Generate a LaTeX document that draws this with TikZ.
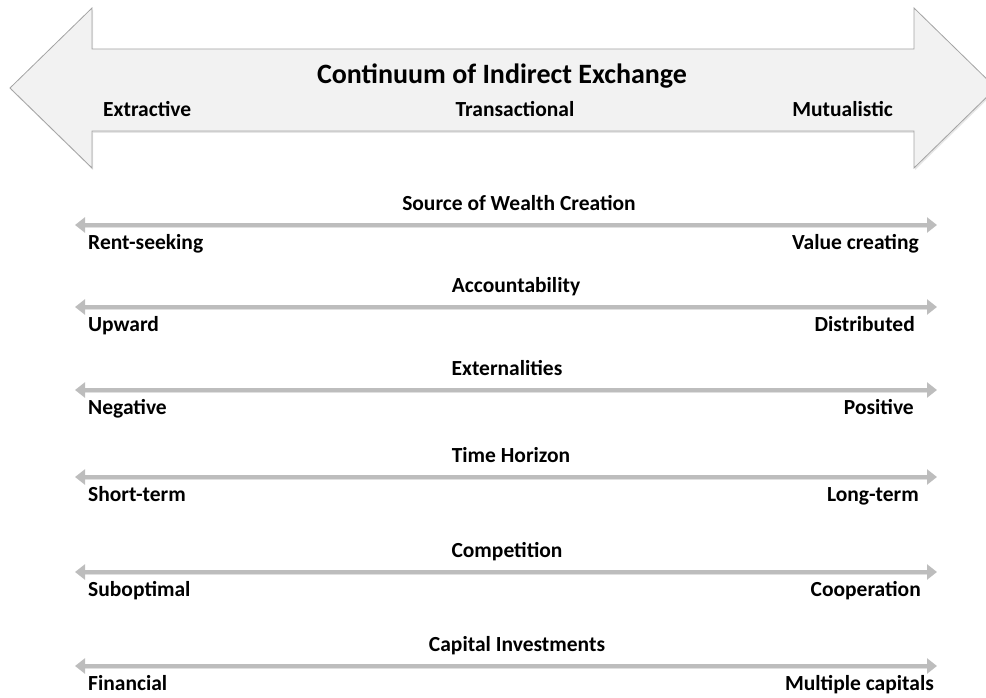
\documentclass[tikz,border=0pt]{standalone}
\usepackage{fontspec}
\setmainfont{Carlito}
\usetikzlibrary{arrows.meta,shadows}
\definecolor{arrowfill}{HTML}{F2F2F2}
\definecolor{arrowline}{HTML}{A3A3A3}
\definecolor{scaleline}{HTML}{BDBDBD}
\begin{document}
\begin{tikzpicture}[x=1pt,y=-1pt]
\tikzset{
	big arrow/.style={draw=arrowline,fill=arrowfill,line width=0.8pt,
		drop shadow={opacity=0.2,shadow xshift=1pt,shadow yshift=-2pt}},
	scale arrow/.style={draw=scaleline,line width=3.5pt,
		{Triangle[length=10pt,width=15pt]}-{Triangle[length=10pt,width=15pt]}},
	scale shadow/.style={draw=black!12,line width=3pt,shorten <=6pt,shorten >=6pt,
		transform canvas={yshift=-1.8pt}},
	head text/.style={font=\bfseries\fontsize{28}{32}\selectfont,inner sep=0pt,anchor=mid},
	pole text/.style={font=\bfseries\fontsize{21.5}{24}\selectfont,inner sep=0pt}
}
\useasboundingbox (0,0) rectangle (986,698);
\clip (0,0) rectangle (986,698);
% continuum arrow
\path[big arrow] (10,88) -- (92,8) -- (92,49) -- (914,49) -- (914,8) -- (996,88)
	-- (914,168) -- (914,131) -- (92,131) -- (92,168) -- cycle;
\node[head text] (continuum) at (502,81) {Continuum of Indirect Exchange};
\node[pole text,anchor=mid west] (extractive) at (103,114) {Extractive};
\node[pole text,anchor=mid] (transactional) at (515,114) {Transactional};
\node[pole text,anchor=mid east] (mutualistic) at (893,114) {Mutualistic};
% dimensions
\foreach \y/\t/\tx/\l/\r/\rx [count=\i] in {
	225/Source of Wealth Creation/519/Rent-seeking/Value creating/919,
	307/Accountability/516/Upward/Distributed/915,
	390/Externalities/507/Negative/Positive/914,
	477/Time Horizon/511/Short-term/Long-term/919,
	572/Competition/507/Suboptimal/Cooperation/921,
	666/Capital Investments/517/Financial/Multiple capitals/934}
{
	\coordinate (west\i) at (75,\y);
	\coordinate (east\i) at (937,\y);
	\draw[scale shadow] (west\i) -- (east\i);
	\draw[scale arrow] (west\i) -- (east\i);
	\node[pole text,anchor=mid] (dim\i) at (\tx,\y-17) {\t};
	\node[pole text,anchor=mid west] (low\i) at (88,\y+22) {\l};
	\node[pole text,anchor=mid east] (high\i) at (\rx,\y+22) {\r};
}
\end{tikzpicture}
\end{document}
